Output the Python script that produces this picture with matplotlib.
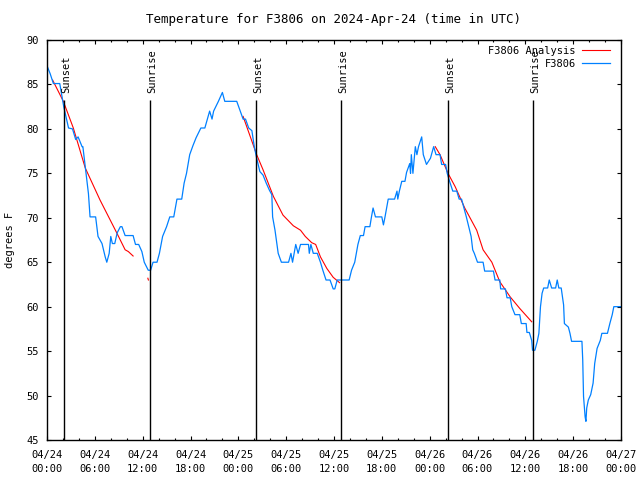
import datetime as dt
import numpy as np
import matplotlib
matplotlib.use('Agg')
import matplotlib.pyplot as plt
import matplotlib.dates as mdates

# Data (hours after 2024-04-24 00:00 UTC, degrees F)
start = dt.datetime(2024, 4, 24, 0, 0)

obs_hours = [0.0, 0.4, 0.8, 1.6, 2.1, 2.7, 3.2, 3.6, 3.9, 4.4, 4.5, 4.8, 5.2, 5.4, 6.1, 6.4,
             6.9, 7.3, 7.5, 7.8, 8.0, 8.2, 8.5, 8.8, 9.2, 9.4, 9.8, 10.8, 11.1, 11.5, 11.9,
             12.2, 12.7, 13.0, 13.3, 13.8, 14.1, 14.5, 15.0, 15.4, 15.9, 16.3, 16.9, 17.2,
             17.5, 17.9, 18.3, 18.7, 19.3, 19.8, 20.4, 20.7, 20.9, 21.5, 22.0, 22.3, 23.8,
             24.2, 24.6, 24.9, 25.3, 25.7, 26.0, 26.3, 26.7, 27.1, 27.5, 27.9, 28.2, 28.3,
             28.6, 29.0, 29.4, 30.3, 30.6, 30.8, 31.0, 31.2, 31.5, 31.8, 32.8, 32.9, 33.1,
             33.4, 33.9, 34.3, 34.6, 35.0, 35.5, 35.9, 36.1, 36.4, 37.9, 38.2, 38.6, 39.0,
             39.3, 39.7, 39.9, 40.5, 40.7, 40.9, 41.2, 42.0, 42.2, 42.4, 42.6, 42.8, 43.6,
             43.9, 44.0, 44.2, 44.5, 44.9, 45.1, 45.5, 45.6, 45.7, 45.9, 46.2, 46.4, 46.6,
             47.0, 47.2, 47.6, 48.1, 48.5, 48.8, 49.3, 49.5, 50.0, 50.2, 50.5, 50.9, 51.4,
             51.7, 52.0, 52.3, 52.6, 52.9, 53.2, 53.4, 53.6, 54.0, 54.7, 54.9, 56.0, 56.2,
             56.8, 56.9, 57.5, 57.7, 58.1, 58.3, 58.7, 59.3, 59.5, 60.1, 60.2, 60.5, 60.8,
             60.9, 61.2, 61.5, 61.7, 61.9, 62.1, 62.3, 62.8, 63.0, 63.3, 63.8, 64.0, 64.2,
             64.5, 64.8, 64.9, 65.4, 65.6, 65.8, 67.1, 67.2, 67.3, 67.5, 67.6, 67.7, 67.9,
             68.2, 68.5, 68.7, 69.0, 69.4, 69.6, 70.3, 70.6, 70.9, 71.1, 72.0]
obs_temp = [87.1, 86.2, 85.1, 85.1, 82.5, 80.1, 80.0, 78.8, 79.1, 78.0, 78.0, 75.7, 72.7, 70.1,
            70.1, 67.9, 67.1, 65.6, 65.0, 66.0, 67.9, 67.1, 67.1, 68.3, 69.0, 69.0, 68.0, 68.0,
            67.0, 67.0, 66.2, 65.0, 64.1, 64.1, 65.0, 65.0, 66.0, 67.9, 69.0, 70.1, 70.1, 72.1,
            72.1, 73.9, 75.0, 77.1, 78.1, 79.0, 80.1, 80.1, 82.0, 81.1, 82.0, 83.1, 84.1, 83.1,
            83.1, 82.1, 81.1, 81.1, 80.1, 79.8, 78.0, 76.7, 75.2, 74.8, 73.9, 73.1, 72.6, 70.1,
            68.6, 66.0, 65.0, 65.0, 66.0, 65.0, 66.0, 67.0, 66.0, 67.0, 67.0, 66.0, 67.0, 66.0,
            66.0, 65.0, 64.1, 63.0, 63.0, 62.0, 62.0, 63.0, 63.0, 64.1, 65.0, 67.0, 68.0, 68.0,
            69.0, 69.0, 70.1, 71.1, 70.1, 70.1, 69.2, 70.1, 71.1, 72.1, 72.1, 73.0, 72.1, 73.0,
            74.1, 74.1, 75.1, 76.1, 75.0, 77.1, 75.0, 78.0, 77.1, 78.0, 79.1, 77.1, 76.0, 76.7,
            78.0, 77.1, 77.1, 76.0, 76.0, 75.0, 74.1, 73.0, 73.0, 72.1, 72.1, 71.1, 70.1, 69.0,
            67.9, 66.4, 66.0, 65.0, 65.0, 64.0, 64.0, 63.0, 63.0, 62.0, 62.0, 61.0, 61.0, 60.0,
            59.1, 59.1, 58.1, 58.1, 57.1, 57.1, 56.2, 55.1, 55.1, 56.1, 57.0, 60.0, 61.5, 62.1,
            62.1, 63.0, 62.1, 62.1, 63.0, 62.1, 62.1, 60.2, 58.1, 57.7, 57.0, 56.1, 56.1, 54.0,
            49.9, 47.6, 47.1, 48.6, 49.5, 50.1, 51.4, 53.6, 55.3, 56.2, 57.0, 57.0, 58.1, 59.1,
            60.0, 60.0]

nan = float('nan')
ana_hours = [0.7, 2.05, 3.3, 4.8, 6.65, 8.75, 9.8, 10.2, 10.8, 11.5,
             12.65, 12.72, 18.0,
             24.6, 26.3, 27.1, 28.4, 29.6, 30.9, 31.8, 32.4, 33.2, 33.7, 34.3, 35.1, 35.9, 36.7, 42.0,
             48.7, 49.3, 50.3, 51.2, 52.4, 53.9, 54.7, 55.8, 56.8, 58.1, 59.3, 60.8]
ana_temp = [85.5, 83.1, 80.1, 75.6, 72.0, 68.3, 66.4, 66.2, 65.7, nan,
            63.2, 63.0, nan,
            81.4, 77.1, 75.4, 72.4, 70.3, 69.1, 68.6, 67.9, 67.2, 67.0, 65.6, 64.3, 63.3, 62.7, nan,
            78.0, 77.1, 75.0, 73.5, 71.1, 68.6, 66.4, 65.0, 62.8, 61.1, 59.8, 58.3]

sun_labels = ['Sunset', 'Sunrise', 'Sunset', 'Sunrise', 'Sunset', 'Sunrise']
sun_hours = [2.13, 12.92, 26.2, 36.88, 50.3, 60.96]

to_time = lambda hrs: [start + dt.timedelta(hours=h) for h in hrs]

plt.rcParams['font.family'] = 'DejaVu Sans Mono'
plt.rcParams['font.size'] = 7.5

fig = plt.figure(figsize=(6.4, 4.8), dpi=100)
ax = fig.add_axes([47 / 640, 40 / 480, 574 / 640, 400 / 480])

ax.plot(to_time(ana_hours), ana_temp, color='#ff0000', lw=0.8, label='F3806 Analysis')
ax.plot(to_time(obs_hours), obs_temp, color='#0080ff', lw=0.9, label='F3806')

for lab, t in zip(sun_labels, to_time(sun_hours)):
    ax.vlines(t, 45, 83.25, color='black', lw=1.0)
    ax.text(t + dt.timedelta(hours=0.25), 84.0, lab, rotation=90, ha='center', va='bottom')

ax.set_xlim(start, start + dt.timedelta(days=3))
ax.set_ylim(45, 90)
ax.set_yticks(np.arange(45, 91, 5))
ax.xaxis.set_major_locator(mdates.HourLocator(byhour=[0, 6, 12, 18]))
ax.xaxis.set_minor_locator(mdates.HourLocator(byhour=range(0, 24, 2)))
ax.xaxis.set_major_formatter(mdates.DateFormatter('%m/%d\n%H:%M'))
for lbl in ax.get_xticklabels():
    lbl.set_linespacing(1.55)

ax.tick_params(which='both', direction='in', top=True, right=True)
ax.tick_params(which='major', length=3, width=0.8)
ax.tick_params(which='minor', length=1.5, width=0.8)
ax.tick_params(axis='x', which='major', pad=7)
ax.tick_params(axis='y', pad=6)
for sp in ax.spines.values():
    sp.set_linewidth(1.0)

ax.set_ylabel('degrees F', labelpad=8)
ax.set_title('Temperature for F3806 on 2024-Apr-24 (time in UTC)', pad=12)

ax.legend(loc='upper right', bbox_to_anchor=(1 - 11 / 574, 1 - 6 / 400), frameon=False,
          markerfirst=False, borderpad=0, borderaxespad=0, handlelength=2.7,
          handletextpad=0.6, labelspacing=0.25)

plt.savefig('out.png', dpi=100)
